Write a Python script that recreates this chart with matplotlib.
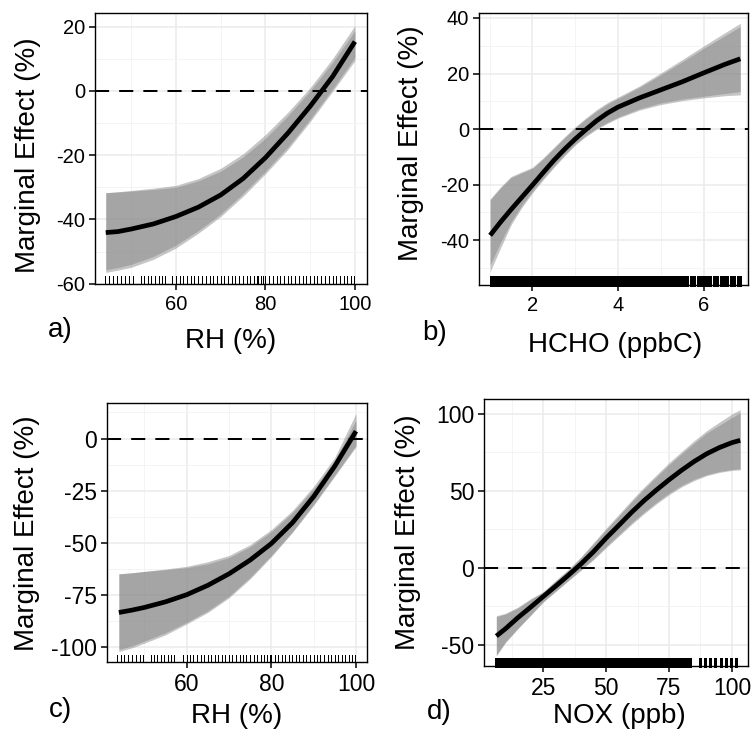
import matplotlib
matplotlib.use("Agg")
import matplotlib.pyplot as plt
from matplotlib.ticker import FixedLocator

plt.rcParams['font.family'] = ['Liberation Sans', 'DejaVu Sans']
plt.rcParams['axes.unicode_minus'] = False

# ---------------- Data ----------------
# Panel a: RH
a_x = [44.3, 47, 50, 55, 60, 65, 70, 75, 80, 85, 90, 95, 100]
a_fit = [-44.1, -43.8, -43.0, -41.4, -39.1, -36.2, -32.4, -27.3, -20.8, -13.2, -4.8, 4.4, 15.3]
a_hi1 = [-31.7, -31.5, -31.2, -30.7, -30.0, -28.0, -25.0, -20.6, -14.8, -7.8, 0.0, 8.8, 18.7]
a_lo1 = [-55.7, -55.0, -54.0, -51.5, -48.0, -43.5, -38.3, -32.0, -25.0, -17.5, -8.8, 0.6, 10.4]
a_hi2 = [-31.7, -31.4, -31.0, -30.3, -29.4, -27.3, -24.1, -19.6, -13.6, -6.7, 1.0, 10.0, 20.3]
a_lo2 = [-56.5, -55.8, -54.9, -52.4, -48.9, -44.3, -39.1, -32.8, -25.8, -18.3, -9.6, -0.2, 9.4]
a_rug = [44.1, 45, 45.9, 46.8, 47.7, 48.6, 49.5, 50.4,
         52.1, 52.9, 53.7, 54.5, 55.3, 56.1, 56.9, 57.6,
         59.2, 60, 60.8, 61.6, 62.5, 63.3, 64.1, 65, 65.8, 66.6, 67.5, 68.3,
         69.1, 70, 70.8, 71.6, 72.5, 73.3, 74.1, 75, 75.8, 76.6, 77.5, 78,
         78.4, 79, 79.5, 80, 80.8, 81.6, 82.5, 83.3, 84.1, 85, 85.8, 86.6,
         87.5, 88.3, 89.1, 90, 90.8, 91.6, 92.5, 93.3, 94.1, 95, 95.8, 96.6,
         97.5, 98.3, 99.1, 99.9]

# Panel b: HCHO
b_x = [1.01, 1.25, 1.5, 1.75, 2.0, 2.25, 2.5, 2.75, 3.0, 3.25, 3.5, 3.75, 4.0,
       4.5, 5.0, 5.5, 6.0, 6.5, 6.86]
b_fit = [-38.3, -33.6, -29.0, -24.6, -20.2, -15.7, -11.3, -7.3, -3.6, -0.2, 3.0, 5.7, 7.9,
         11.2, 14.1, 17.0, 20.2, 23.3, 25.3]
b_hi1 = [-25.6, -21.3, -17.5, -15.8, -14.2, -10.8, -7.0, -3.2, 0.4, 3.6, 6.5, 9.0, 11.0,
         15.0, 19.5, 24.2, 29.0, 33.6, 36.9]
b_lo1 = [-49.0, -41.0, -33.5, -27.5, -22.4, -17.8, -13.4, -9.2, -5.4, -2.3, 0.3, 2.4, 4.3,
         7.3, 9.4, 10.8, 11.8, 12.8, 13.5]
b_hi2 = [-25.2, -20.9, -17.1, -15.4, -13.8, -10.4, -6.6, -2.8, 0.8, 4.0, 7.0, 9.5, 11.5,
         15.5, 20.2, 25.0, 29.9, 34.7, 38.1]
b_lo2 = [-51.4, -43.0, -34.5, -28.3, -23.0, -18.3, -13.9, -9.7, -5.8, -2.7, -0.1, 2.0, 3.9,
         6.8, 8.8, 10.2, 11.2, 12.0, 12.3]
b_rug = [1.02, 1.07, 1.12, 1.17, 1.22, 1.27, 1.32, 1.37, 1.42, 1.47, 1.52, 1.57,
         1.62, 1.67, 1.72, 1.77, 1.82, 1.87, 1.92, 1.97, 2.02, 2.07, 2.12, 2.17,
         2.22, 2.27, 2.32, 2.37, 2.42, 2.47, 2.52, 2.57, 2.62, 2.67, 2.72, 2.77,
         2.82, 2.87, 2.92, 2.97, 3.02, 3.07, 3.12, 3.17, 3.22, 3.27, 3.32, 3.37,
         3.42, 3.47, 3.52, 3.57, 3.62, 3.67, 3.72, 3.77, 3.82, 3.87, 3.92, 3.97,
         4.02, 4.07, 4.12, 4.17, 4.22, 4.27, 4.32, 4.37, 4.42, 4.47, 4.52, 4.57,
         4.62, 4.67, 4.72, 4.77, 4.82, 4.87, 4.92, 4.97, 5.02, 5.07, 5.12, 5.17,
         5.22, 5.27, 5.32, 5.37, 5.42, 5.47, 5.55, 5.62, 5.7, 5.78, 5.86, 5.93,
         6.0, 6.08, 6.16, 6.24, 6.32, 6.4, 6.48, 6.56, 6.64, 6.72, 6.8, 6.86]

# Panel c: RH
c_x = [44, 47, 50, 55, 60, 65, 70, 75, 80, 85, 90, 95, 100]
c_fit = [-83.3, -82.2, -80.9, -78.2, -74.8, -70.3, -64.8, -58.2, -50.3, -40.3, -27.8, -13.2, 3.5]
c_hi1 = [-64.8, -64.3, -63.7, -62.8, -61.8, -60.0, -57.0, -51.8, -44.6, -35.5, -24.0, -10.5, 8.8]
c_lo1 = [-101.0, -99.3, -97.0, -93.0, -88.0, -82.5, -75.5, -66.5, -56.0, -44.5, -31.5, -17.5, -3.2]
c_hi2 = [-64.8, -64.3, -63.6, -62.5, -61.2, -59.0, -56.0, -50.8, -43.6, -34.5, -22.9, -9.0, 12.0]
c_lo2 = [-102.0, -100.3, -98.0, -94.0, -88.8, -83.3, -76.3, -67.2, -56.6, -45.0, -32.0, -18.0, -4.0]
c_rug = [43.5, 44.4, 45.3, 46.2, 47.1, 48, 48.9, 49.8,
         51.5, 52.3, 53.1, 53.9, 54.7, 55.5, 56.3, 57.1,
         59.2, 60, 60.8, 61.6, 62.5, 63.3, 64.1, 65, 65.8, 66.6, 67.5, 68.3,
         69.1, 70, 70.8, 71.6, 72.5, 73.3, 74.1, 75, 75.8, 76.6, 77.5, 78.3,
         79.1, 79.6, 80, 80.8, 81.6, 82.5, 83.3, 84.1, 85, 85.8, 86.6, 87.5,
         88.3, 89.1, 90, 90.8, 91.6, 92.5, 93.3, 94.1, 95, 95.8, 96.6, 97.5,
         98.3, 99.1, 99.7]

# Panel d: NOX
d_x = [6.4, 10, 15, 20, 25, 30, 35, 40, 45, 50, 55, 60, 65, 70, 75, 80, 85, 90, 95, 100, 103.3]
d_fit = [-44.2, -39.5, -32.2, -25.5, -18.6, -11.8, -4.8, 2.5, 10.5, 19.3, 27.5, 35.8, 43.5,
         50.5, 57.1, 63.3, 69.0, 74.0, 78.0, 81.2, 82.7]
d_hi1 = [-31.6, -30.0, -26.0, -20.5, -15.8, -8.5, -1.5, 6.5, 15.5, 24.7, 33.5, 42.5, 51.0,
         59.0, 66.9, 74.0, 81.0, 87.5, 92.5, 97.5, 100.5]
d_lo1 = [-56.5, -48.0, -39.0, -30.5, -21.9, -15.0, -8.0, -1.0, 6.0, 13.9, 21.5, 29.0, 36.0,
         42.5, 48.5, 53.5, 57.5, 60.5, 62.5, 63.8, 64.2]
d_hi2 = [-31.0, -29.4, -25.4, -20.0, -15.4, -8.0, -1.0, 7.2, 16.4, 25.7, 34.6, 43.6, 52.2,
         60.3, 68.2, 75.4, 82.5, 89.0, 94.5, 99.8, 102.6]
d_lo2 = [-57.0, -48.5, -39.4, -30.9, -22.2, -15.3, -8.4, -1.6, 5.3, 13.0, 20.5, 28.0, 35.0,
         41.5, 47.4, 52.5, 56.6, 59.8, 61.9, 63.2, 63.6]
d_rug = [6.4, 7, 7.5, 8, 8.5, 9, 9.5, 10, 10.5, 11, 11.5, 12, 12.5, 13, 13.5, 14, 14.5,
         15, 15.5, 16, 16.5, 17, 17.5, 18, 18.5, 19, 19.5, 20, 20.5, 21, 21.5, 22, 22.5,
         23, 23.5, 24, 24.5, 25, 25.5, 26, 26.5, 27, 27.5, 28, 28.5, 29, 29.5, 30, 30.5,
         31, 31.5, 32, 32.5, 33, 33.5, 34, 34.5, 35, 35.5, 36, 36.5, 37, 37.5, 38, 38.5,
         39, 39.5, 40, 40.5, 41, 41.5, 42, 42.5, 43, 43.5, 44, 44.5, 45, 45.5, 46, 46.5,
         47, 47.5, 48, 48.5, 49, 49.5, 50, 50.5, 51, 51.5, 52, 52.5, 53, 53.5, 54, 54.5,
         55, 55.5, 56, 56.5, 57, 57.5, 58, 58.5, 59, 59.7, 60.4, 61.1, 61.8, 62.5, 63.3,
         64, 64.8, 65.5, 66.3, 67, 67.8, 68.5, 69.3, 70, 70.8, 71.5, 72.3, 73, 73.8,
         74.5, 75.3, 76, 76.8, 77.5, 78.3, 79, 79.8, 80.5, 81.3, 82, 82.8, 83.5, 87.2,
         89.2, 91.3, 93.4, 95.5, 97.5, 99.6, 101.8]

panels = [
    dict(x=a_x, fit=a_fit, hi1=a_hi1, lo1=a_lo1, hi2=a_hi2, lo2=a_lo2, rug=a_rug,
         xlim=(41.9, 102.7), ylim=(-60.1, 24.2), xmaj=[60, 80, 100], xmin=[50, 70, 90],
         ymaj=[-60, -40, -20, 0, 20], ymin=[-50, -30, -10, 10],
         rect=(95, 13, 367, 284), xlabel="RH (%)", tag="a)", ts=14.5, rw=0.72),
    dict(x=b_x, fit=b_fit, hi1=b_hi1, lo1=b_lo1, hi2=b_hi2, lo2=b_lo2, rug=b_rug,
         xlim=(0.75, 7.04), ylim=(-56.2, 41.8), xmaj=[2, 4, 6], xmin=[1, 3, 5, 7],
         ymaj=[-40, -20, 0, 20, 40], ymin=[-50, -30, -10, 10, 30],
         rect=(479, 13, 748, 285), xlabel="HCHO (ppbC)", tag="b)", ts=14.5, rw=1.0),
    dict(x=c_x, fit=c_fit, hi1=c_hi1, lo1=c_lo1, hi2=c_hi2, lo2=c_lo2, rug=c_rug,
         xlim=(41.2, 102.6), ylim=(-107, 17), xmaj=[60, 80, 100], xmin=[50, 70, 90],
         ymaj=[-100, -75, -50, -25, 0], ymin=[-87.5, -62.5, -37.5, -12.5, 12.5],
         rect=(107, 403, 367, 662), xlabel="RH (%)", tag="c)", ts=16.5, rw=0.72),
    dict(x=d_x, fit=d_fit, hi1=d_hi1, lo1=d_lo1, hi2=d_hi2, lo2=d_lo2, rug=d_rug,
         xlim=(1.5, 106.4), ylim=(-63.6, 109.5), xmaj=[25, 50, 75, 100],
         xmin=[12.5, 37.5, 62.5, 87.5], ymaj=[-50, 0, 50, 100], ymin=[-25, 25, 75],
         rect=(484, 399, 748, 666), xlabel="NOX (ppb)", tag="d)", ts=16.5, rw=1.0),
]

# text placement (figure pixels): ylabel center, xlabel center, tag left/center
text_pos = [
    dict(yl=(28, 155), xl=(231, 341), tag=(48, 330)),
    dict(yl=(411, 143), xl=(615, 345), tag=(422, 333)),
    dict(yl=(27, 533), xl=(237, 716), tag=(49, 710)),
    dict(yl=(408, 532), xl=(619, 716), tag=(427, 712)),
]

W, H = 751, 736
fig = plt.figure(figsize=(W / 100, H / 100), dpi=100)

for p, tp in zip(panels, text_pos):
    l, t, r, b = p['rect']
    ax = fig.add_axes([l / W, 1 - b / H, (r - l) / W, (b - t) / H])
    ax.set_xlim(*p['xlim'])
    ax.set_ylim(*p['ylim'])
    ax.xaxis.set_major_locator(FixedLocator(p['xmaj']))
    ax.xaxis.set_minor_locator(FixedLocator(p['xmin']))
    ax.yaxis.set_major_locator(FixedLocator(p['ymaj']))
    ax.yaxis.set_minor_locator(FixedLocator(p['ymin']))
    ax.grid(which='major', color='#ebebeb', lw=1.1, zorder=0)
    ax.grid(which='minor', color='#f3f3f3', lw=0.6, zorder=0)
    ax.set_axisbelow(True)
    ax.tick_params(which='minor', length=0)
    ax.tick_params(which='major', length=4, width=1.1, color='black',
                   labelsize=p['ts'], labelcolor='black', direction='out')
    ax.tick_params(axis='x', pad=4)
    ax.tick_params(axis='y', pad=3)
    for s in ax.spines.values():
        s.set_color('black')
        s.set_linewidth(1.0)

    ax.fill_between(p['x'], p['lo2'], p['hi2'], color='#808080', alpha=0.45, lw=0, zorder=2)
    ax.fill_between(p['x'], p['lo1'], p['hi1'], color='#808080', alpha=0.45, lw=0, zorder=2)
    ax.axhline(0, color='black', lw=1.45, ls=(0, (7, 5)), zorder=3)
    ax.plot(p['x'], p['fit'], color='black', lw=3.4, solid_capstyle='butt',
            solid_joinstyle='round', zorder=4)
    for v in p['rug']:
        ax.plot([v, v], [0, 0.028], transform=ax.get_xaxis_transform(),
                color='black', lw=p['rw'], zorder=5, clip_on=False, antialiased=False)

    fig.text(tp['yl'][0] / W, 1 - tp['yl'][1] / H, "Marginal Effect (%)",
             rotation=90, ha='center', va='center', fontsize=20)
    fig.text(tp['xl'][0] / W, 1 - tp['xl'][1] / H, p['xlabel'],
             ha='center', va='center', fontsize=20)
    fig.text(tp['tag'][0] / W, 1 - tp['tag'][1] / H, p['tag'],
             ha='left', va='center', fontsize=20)

fig.savefig("out.png", dpi=100)
